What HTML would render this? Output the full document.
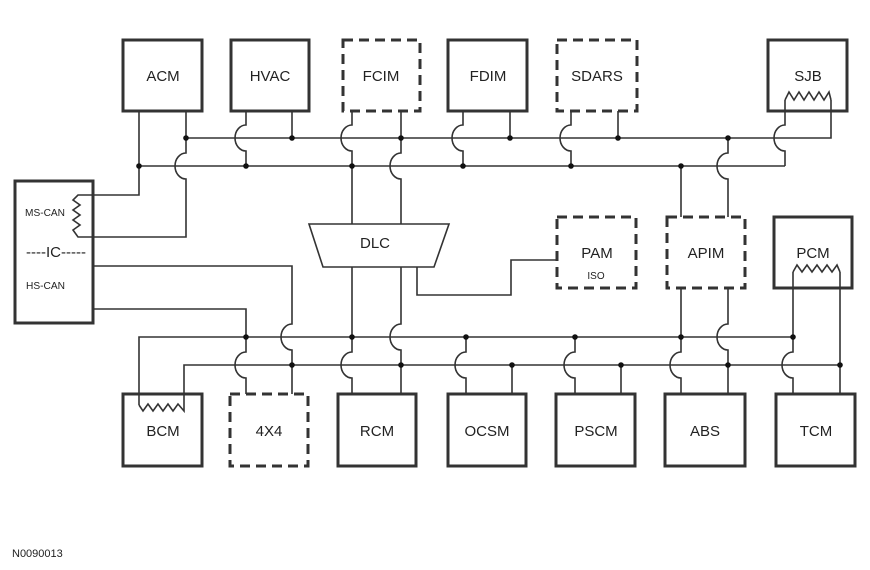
<!DOCTYPE html>
<html><head><meta charset="utf-8"><style>
html,body{margin:0;padding:0;background:#fff;}
svg{display:block;}
text{font-family:"Liberation Sans",Arial,sans-serif;fill:#222;}
</style></head><body>
<svg width="870" height="570" viewBox="0 0 870 570" xmlns="http://www.w3.org/2000/svg">
<g fill="none" stroke="#333" stroke-width="3">
<rect x="123" y="40" width="79" height="71"/>
<rect x="231" y="40" width="78" height="71"/>
<rect x="343" y="40" width="77" height="71" stroke-dasharray="10,6"/>
<rect x="448" y="40" width="79" height="71"/>
<rect x="557" y="40" width="80" height="71" stroke-dasharray="10,6"/>
<rect x="768" y="40" width="79" height="71"/>
<rect x="15" y="181" width="78" height="142"/>
<rect x="557" y="217" width="79" height="71" stroke-dasharray="10,6"/>
<rect x="667" y="217" width="78" height="71" stroke-dasharray="10,6"/>
<rect x="774" y="217" width="78" height="71"/>
<rect x="123" y="394" width="79" height="72"/>
<rect x="230" y="394" width="78" height="72" stroke-dasharray="10,6"/>
<rect x="338" y="394" width="78" height="72"/>
<rect x="448" y="394" width="78" height="72"/>
<rect x="556" y="394" width="79" height="72"/>
<rect x="665" y="394" width="80" height="72"/>
<rect x="776" y="394" width="79" height="72"/>
</g>
<g fill="none" stroke="#333" stroke-width="1.6">
<path d="M309,224 H449 L434,267 H323 Z"/>
<path d="M186,138 H831 V100"/>
<path d="M139,166 H785"/>
<path d="M139,111 V195 H93"/>
<path d="M186,111 V153 A11,13 0 0 0 186,179 V237 H93"/>
<path d="M246,111 V125 A11,13 0 0 0 246,151 V166"/>
<path d="M292,111 V138"/>
<path d="M352,111 V125 A11,13 0 0 0 352,151 V224"/>
<path d="M401,111 V153 A11,13 0 0 0 401,179 V224"/>
<path d="M463,111 V125 A11,13 0 0 0 463,151 V166"/>
<path d="M510,111 V138"/>
<path d="M571,111 V125 A11,13 0 0 0 571,151 V166"/>
<path d="M618,111 V138"/>
<path d="M681,166 V217"/>
<path d="M728,138 V153 A11,13 0 0 0 728,179 V217"/>
<path d="M785,100 V125 A11,13 0 0 0 785,151 V166"/>
<path d="M785,100 L789,92 L794,100 L799,92 L804,100 L809,92 L814,100 L819,92 L824,100 L829,92 L831,100"/>
<path d="M93,195 H78 L73,200 L80,205 L73,210 L80,215 L73,220 L80,225 L73,230 L78,237 H93"/>
<path d="M93,266 H292 V324 A11,13 0 0 0 292,350 V394"/>
<path d="M93,309 H246 V352 A11,13 0 0 0 246,378 V394"/>
<path d="M352,267 V352 A11,13 0 0 0 352,378 V394"/>
<path d="M401,267 V324 A11,13 0 0 0 401,350 V394"/>
<path d="M417,267 V295 H511 V260 H557"/>
<path d="M139,405 V337 H793"/>
<path d="M184,405 V365 H840"/>
<path d="M139,405 L143,411 L148,404 L153,411 L158,404 L163,411 L168,404 L173,411 L178,404 L184,411 L184,405"/>
<path d="M466,337 V352 A11,13 0 0 0 466,378 V394"/>
<path d="M512,365 V394"/>
<path d="M575,337 V352 A11,13 0 0 0 575,378 V394"/>
<path d="M621,365 V394"/>
<path d="M681,288 V352 A11,13 0 0 0 681,378 V394"/>
<path d="M728,288 V324 A11,13 0 0 0 728,350 V394"/>
<path d="M793,272 V352 A11,13 0 0 0 793,378 V394"/>
<path d="M840,272 V394"/>
<path d="M793,272 L797,265 L802,272 L807,265 L812,272 L817,265 L822,272 L827,265 L832,272 L837,265 L840,272"/>
</g>
<g fill="#111">
<circle cx="186" cy="138" r="2.8"/><circle cx="292" cy="138" r="2.8"/><circle cx="401" cy="138" r="2.8"/>
<circle cx="510" cy="138" r="2.8"/><circle cx="618" cy="138" r="2.8"/><circle cx="728" cy="138" r="2.8"/>
<circle cx="139" cy="166" r="2.8"/><circle cx="246" cy="166" r="2.8"/><circle cx="352" cy="166" r="2.8"/>
<circle cx="463" cy="166" r="2.8"/><circle cx="571" cy="166" r="2.8"/><circle cx="681" cy="166" r="2.8"/>
<circle cx="246" cy="337" r="2.8"/><circle cx="352" cy="337" r="2.8"/><circle cx="466" cy="337" r="2.8"/>
<circle cx="575" cy="337" r="2.8"/><circle cx="681" cy="337" r="2.8"/><circle cx="793" cy="337" r="2.8"/>
<circle cx="292" cy="365" r="2.8"/><circle cx="401" cy="365" r="2.8"/><circle cx="512" cy="365" r="2.8"/>
<circle cx="621" cy="365" r="2.8"/><circle cx="728" cy="365" r="2.8"/><circle cx="840" cy="365" r="2.8"/>
</g>
<g font-size="15" text-anchor="middle">
<text x="163" y="81">ACM</text>
<text x="270" y="81">HVAC</text>
<text x="381" y="81">FCIM</text>
<text x="488" y="81">FDIM</text>
<text x="597" y="81">SDARS</text>
<text x="808" y="81">SJB</text>
<text x="375" y="248">DLC</text>
<text x="597" y="258">PAM</text>
<text x="706" y="258">APIM</text>
<text x="813" y="258">PCM</text>
<text x="163" y="436">BCM</text>
<text x="269" y="436">4X4</text>
<text x="377" y="436">RCM</text>
<text x="487" y="436">OCSM</text>
<text x="596" y="436">PSCM</text>
<text x="705" y="436">ABS</text>
<text x="816" y="436">TCM</text>
<text x="56" y="257">----IC-----</text>
</g>
<text x="596" y="279" font-size="10" text-anchor="middle">ISO</text>
<text x="25" y="216" font-size="10" textLength="40" lengthAdjust="spacingAndGlyphs">MS-CAN</text>
<text x="26" y="289" font-size="10" textLength="39" lengthAdjust="spacingAndGlyphs">HS-CAN</text>
<text x="12" y="557" font-size="11">N0090013</text>
</svg>
</body></html>
